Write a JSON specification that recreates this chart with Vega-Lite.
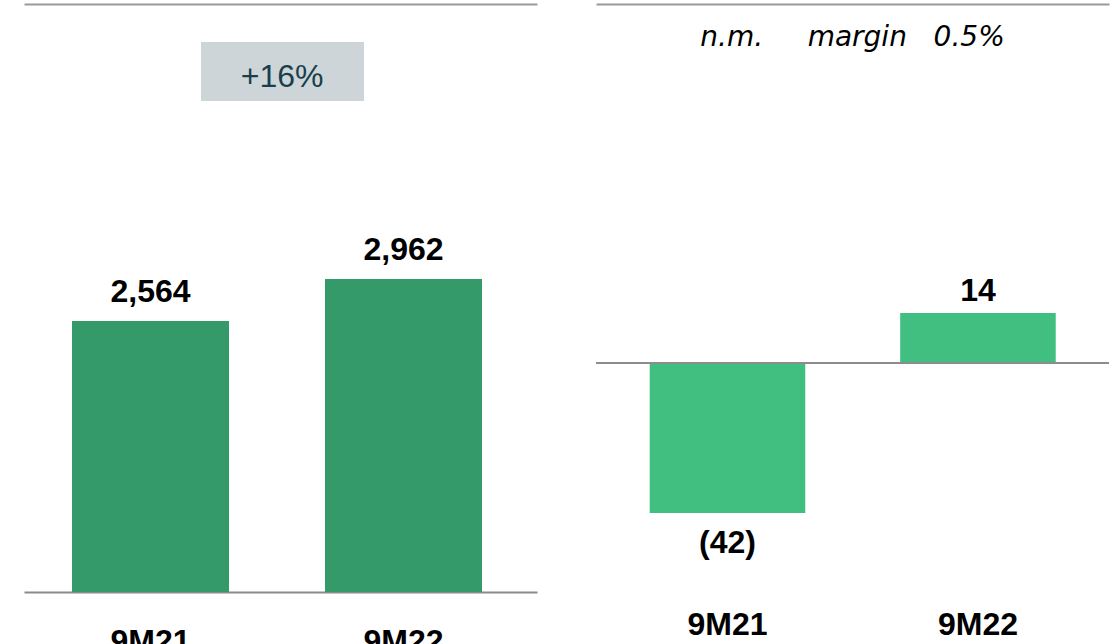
{
  "$schema": "https://vega.github.io/schema/vega-lite/v6.json",
  "padding": {"left": 24, "top": 4, "right": 0, "bottom": 0},
  "background": "white",
  "config": {"view": {"stroke": null}, "font": "Liberation Sans", "concat": {"spacing": 58}},
  "datasets": {
    "revenue": [
      {"period": "9M21", "value": 2564, "label": "2,564"},
      {"period": "9M22", "value": 2962, "label": "2,962"}
    ],
    "result": [
      {"period": "9M21", "value": -42, "label": "(42)"},
      {"period": "9M22", "value": 14, "label": "14"}
    ],
    "growth": [{"text": "+16%"}],
    "margin": [{"text": "n.m.\u00a0\u00a0\u00a0\u00a0\u00a0margin\u00a0\u00a0\u00a00.5%"}],
    "zero": [{"value": 0}]
  },
  "hconcat": [
    {
      "width": 513,
      "height": 588,
      "layer": [
        {
          "data": {"name": "revenue"},
          "mark": {"type": "bar", "color": "#359A6A"},
          "encoding": {
            "x": {
              "field": "period", "type": "nominal",
              "scale": {"paddingInner": 0.3794, "paddingOuter": 0.2035, "align": 0.466},
              "axis": {"orient": "bottom", "title": null, "domain": true, "domainColor": "#8a8a8a", "domainWidth": 2,
                "ticks": false, "tickSize": 0, "labelPadding": 34, "labelAngle": 0, "labelFont": "Liberation Sans",
                "labelFontSize": 32, "labelFontWeight": "bold", "labelColor": "#000000", "labelBaseline": "top"}
            },
            "y": {"field": "value", "type": "quantitative", "scale": {"domain": [0, 5563], "nice": false, "zero": false}, "axis": null}
          }
        },
        {
          "data": {"name": "revenue"},
          "mark": {"type": "text", "baseline": "alphabetic", "dy": -19, "font": "Liberation Sans", "fontSize": 32, "fontWeight": "bold", "color": "#000000"},
          "encoding": {
            "x": {"field": "period", "type": "nominal",
              "axis": {"orient": "top", "title": null, "domain": true, "domainColor": "#9a9a9a", "domainWidth": 2, "ticks": false, "tickSize": 0, "labels": false}},
            "y": {"field": "value", "type": "quantitative", "axis": null},
            "text": {"field": "label"}
          }
        },
        {
          "data": {"name": "growth"},
          "mark": {"type": "rect", "color": "#CDD5D9"},
          "encoding": {
            "x": {"datum": "9M21", "bandPosition": 0.8217, "axis": null},
            "x2": {"datum": "9M22", "bandPosition": 0.2484},
            "y": {"datum": 5203, "axis": null},
            "y2": {"datum": 4645}
          }
        },
        {
          "data": {"name": "growth"},
          "mark": {"type": "text", "baseline": "alphabetic", "font": "Liberation Sans", "fontSize": 32, "color": "#1A3F4B"},
          "encoding": {
            "x": {"datum": "9M21", "bandPosition": 1.338, "axis": null},
            "y": {"datum": 4778, "axis": null},
            "text": {"field": "text"}
          }
        }
      ],
      "resolve": {"axis": {"x": "independent"}}
    },
    {
      "width": 513,
      "height": 588,
      "layer": [
        {
          "data": {"name": "result"},
          "mark": {"type": "bar", "color": "#40BF80"},
          "encoding": {
            "x": {
              "field": "period", "type": "nominal",
              "scale": {"paddingInner": 0.379, "paddingOuter": 0.2135, "align": 0.502},
              "axis": {"orient": "bottom", "title": null, "domain": false, "ticks": false, "tickSize": 0,
                "labelPadding": 17, "labelAngle": 0, "labelFont": "Liberation Sans", "labelFontSize": 32,
                "labelFontWeight": "bold", "labelColor": "#000000", "labelBaseline": "top"}
            },
            "y": {"field": "value", "type": "quantitative", "scale": {"domain": [-64.1, 100.5], "nice": false, "zero": false}, "axis": null}
          }
        },
        {
          "data": {"name": "zero"},
          "mark": {"type": "rule", "color": "#8c8c8c", "strokeWidth": 2},
          "encoding": {"y": {"field": "value", "type": "quantitative", "axis": null}}
        },
        {
          "data": {"name": "result"},
          "transform": [{"filter": "datum.value >= 0"}],
          "mark": {"type": "text", "baseline": "alphabetic", "dy": -12, "font": "Liberation Sans", "fontSize": 32, "fontWeight": "bold", "color": "#000000"},
          "encoding": {
            "x": {"field": "period", "type": "nominal",
              "axis": {"orient": "top", "title": null, "domain": true, "domainColor": "#9a9a9a", "domainWidth": 2, "ticks": false, "tickSize": 0, "labels": false}},
            "y": {"field": "value", "type": "quantitative", "axis": null},
            "text": {"field": "label"}
          }
        },
        {
          "data": {"name": "result"},
          "transform": [{"filter": "datum.value < 0"}],
          "mark": {"type": "text", "baseline": "alphabetic", "dy": 40, "font": "Liberation Sans", "fontSize": 32, "fontWeight": "bold", "color": "#000000"},
          "encoding": {
            "x": {"field": "period", "type": "nominal", "axis": null},
            "y": {"field": "value", "type": "quantitative", "axis": null},
            "text": {"field": "label"}
          }
        },
        {
          "data": {"name": "margin"},
          "mark": {"type": "text", "baseline": "alphabetic", "font": "DejaVu Sans", "fontSize": 28, "fontStyle": "italic", "color": "#000000"},
          "encoding": {
            "x": {"datum": "9M21", "bandPosition": 1.304, "axis": null},
            "y": {"datum": 88.7, "axis": null},
            "text": {"field": "text"}
          }
        }
      ],
      "resolve": {"axis": {"x": "independent"}}
    }
  ]
}
